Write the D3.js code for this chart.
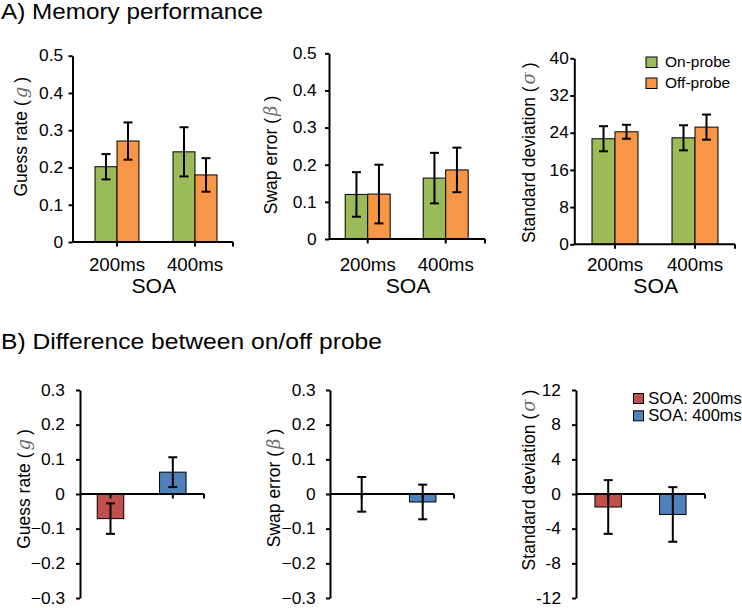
<!DOCTYPE html>
<html><head><meta charset="utf-8">
<script src="https://cdn.jsdelivr.net/npm/d3@7"></script>
<style>
body{margin:0;background:#fff}
svg{display:block}
text{font-family:"Liberation Sans",Arial,sans-serif;fill:#000}
</style>
</head><body>
<svg id="c" width="742" height="608"></svg>
<script>
// ---------- data ----------
const categories = ["200ms", "400ms"];
const seriesNames = ["On-probe", "Off-probe"];
const diffNames = ["SOA: 200ms", "SOA: 400ms"];

const guessOn = [0.202, 0.242], guessOnErr = [0.034, 0.066];
const guessOff = [0.271, 0.180], guessOffErr = [0.050, 0.045];
const swapOn = [0.120, 0.164], swapOnErr = [0.060, 0.068];
const swapOff = [0.121, 0.186], swapOffErr = [0.079, 0.060];
const sdOn = [22.7, 22.9], sdOnErr = [2.7, 2.7];
const sdOff = [24.2, 25.2], sdOffErr = [1.5, 2.7];

const diffGuess = [-0.071, 0.063], diffGuessErr = [0.044, 0.043];
const diffSwap = [-0.001, -0.023], diffSwapErr = [0.050, 0.050];
const diffSd = [-1.5, -2.36], diffSdErr = [3.1, 3.15];

const ticksProp = [0, 0.1, 0.2, 0.3, 0.4, 0.5];
const ticksSd = [0, 8, 16, 24, 32, 40];
const ticksDiff = [-0.3, -0.2, -0.1, 0, 0.1, 0.2, 0.3];
const ticksDiffSd = [-12, -8, -4, 0, 4, 8, 12];

const seriesColors = ["#9BBB59", "#F79646"];
const diffColors = ["#C0504D", "#4F81BD"];

// ---------- helpers ----------
const svg = d3.select("#c");
const SX = 1.05;

function htext(g, x, y, str, size, anchor, sx) {
  sx = sx || 1;
  return g.append("text")
    .attr("transform", `translate(${x},${y}) scale(${sx},1)`)
    .attr("text-anchor", anchor || "start")
    .style("font-size", size + "px")
    .text(str);
}

function ylabel(g, x, y, main, sym) {
  const t = g.append("text")
    .attr("transform", `translate(${x},${y}) rotate(-90)`)
    .attr("text-anchor", "middle")
    .style("font-size", "17.5px");
  t.append("tspan").text(main + " (");
  t.append("tspan").attr("dx", 2)
    .style("font-family", "'DejaVu Serif',serif").style("font-style", "italic")
    .style("fill", "#6b6b6b").style("font-size", "18px").text(sym);
  t.append("tspan").attr("dx", 4).text(")");
}

function yAxis(g, y, ax, ticks, fmt, labelOff, fs) {
  const a = g.append("g").attr("transform", `translate(${ax},0)`)
    .call(d3.axisLeft(y).tickValues(ticks).tickFormat(fmt).tickSize(4).tickSizeOuter(0));
  a.select(".domain").attr("stroke", "#000").attr("stroke-width", 2);
  a.selectAll(".tick line").attr("stroke", "#000").attr("stroke-width", 2);
  a.selectAll(".tick text")
    .attr("x", -labelOff / SX)
    .attr("transform", `scale(${SX},1)`)
    .style("font-size", fs + "px")
    .style("font-family", "'Liberation Sans',Arial,sans-serif")
    .attr("fill", "#000");
}

function errBar(g, x, yTop, yBot) {
  g.append("line").attr("x1", x).attr("x2", x).attr("y1", yTop).attr("y2", yBot)
    .attr("stroke", "#000").attr("stroke-width", 2);
  [yTop, yBot].forEach(yy => g.append("line").attr("x1", x - 4.5).attr("x2", x + 4.5)
    .attr("y1", yy).attr("y2", yy).attr("stroke", "#000").attr("stroke-width", 2));
}

function xAxisLine(g, ax, end, y0, centers) {
  g.append("line").attr("x1", ax).attr("x2", end).attr("y1", y0).attr("y2", y0)
    .attr("stroke", "#000").attr("stroke-width", 2);
  centers.concat([end]).forEach(cx => g.append("line").attr("x1", cx).attr("x2", cx)
    .attr("y1", y0).attr("y2", y0 + 4.5).attr("stroke", "#000").attr("stroke-width", 2));
}

// ---------- titles ----------
htext(svg, 1, 18.5, "A) Memory performance", 21.5, "start", 1.13);
htext(svg, 1, 349.3, "B) Difference between on/off probe", 21.8, "start", 1.13);

// ---------- top panels ----------
const topPanels = [
  {ax: 72.5, y0: 242, yTop: 55.7, c1: 117, c2: 195, end: 233, bw: 22, labelOff: 9.4,
   ylX: 27, ylY: 136.7, label: "Guess rate", sym: "g", ticks: ticksProp, fmt: d => d === 0 ? "0" : d3.format(".1f")(d),
   on: guessOn, onE: guessOnErr, off: guessOff, offE: guessOffErr},
  {ax: 329, y0: 239, yTop: 53.3, c1: 367.7, c2: 445.7, end: 485, bw: 22.5, labelOff: 12.3,
   ylX: 277, ylY: 155, label: "Swap error", sym: "β", ticks: ticksProp, fmt: d => d === 0 ? "0" : d3.format(".1f")(d),
   on: swapOn, onE: swapOnErr, off: swapOff, offE: swapOffErr},
  {ax: 574.3, y0: 244.3, yTop: 58.3, c1: 615, c2: 695, end: 735, bw: 23, labelOff: 5.5,
   ylX: 535, ylY: 152.7, label: "Standard deviation", sym: "σ", ticks: ticksSd, fmt: d => String(d),
   on: sdOn, onE: sdOnErr, off: sdOff, offE: sdOffErr}
];

topPanels.forEach(p => {
  const g = svg.append("g");
  const dom = [p.ticks[0], p.ticks[p.ticks.length - 1]];
  const y = d3.scaleLinear().domain(dom).range([p.y0, p.yTop]);
  const step = p.c2 - p.c1;
  const x0 = d3.scaleBand().domain(categories).range([p.c1 - step / 2, p.c2 + step / 2]);
  const x1 = d3.scaleBand().domain(seriesNames).range([-p.bw, p.bw]);
  const vals = [p.on, p.off], errs = [p.onE, p.offE];
  const cx = c => x0(c) + x0.bandwidth() / 2;

  seriesNames.forEach((s, si) => {
    g.selectAll(null).data(categories).enter().append("rect")
      .attr("x", c => cx(c) + x1(s))
      .attr("width", x1.bandwidth())
      .attr("y", (c, i) => y(vals[si][i]))
      .attr("height", (c, i) => y(0) - y(vals[si][i]))
      .attr("fill", seriesColors[si]).attr("stroke", "#000").attr("stroke-width", 1);
  });
  yAxis(g, y, p.ax, p.ticks, p.fmt, p.labelOff, 16.5);
  xAxisLine(g, p.ax, p.end, y(0), categories.map(cx));
  seriesNames.forEach((s, si) => {
    categories.forEach((c, i) => {
      const xm = cx(c) + x1(s) + x1.bandwidth() / 2;
      errBar(g, xm, y(vals[si][i] + errs[si][i]), y(vals[si][i] - errs[si][i]));
    });
  });
  categories.forEach(c => htext(g, cx(c), 270.7, c, 17.5, "middle", 1.07));
  htext(g, (p.ax + p.end) / 2 + 1, 293.3, "SOA", 20, "middle", 1.06);
  ylabel(g, p.ylX, p.ylY, p.label, p.sym);
});

// legend A
seriesNames.forEach((s, i) => {
  svg.append("rect").attr("x", 646).attr("y", 57 + i * 21).attr("width", 11).attr("height", 10.5)
    .attr("fill", seriesColors[i]).attr("stroke", "#000").attr("stroke-width", 1);
  htext(svg, 665, 67 + i * 20.7, s, 15.5, "start", 1);
});

// ---------- bottom panels ----------
const botPanels = [
  {ax: 80, c1: 110.5, c2: 172.8, end: 204, labelOff: 15, ylX: 30, ylY: 489,
   label: "Guess rate", sym: "g", ticks: ticksDiff, fmt: d => d === 0 ? "0" : d3.format(".1f")(d),
   vals: diffGuess, errs: diffGuessErr},
  {ax: 330, c1: 361.7, c2: 422.7, end: 454, labelOff: 14.3, ylX: 280, ylY: 488,
   label: "Swap error", sym: "β", ticks: ticksDiff, fmt: d => d === 0 ? "0" : d3.format(".1f")(d),
   vals: diffSwap, errs: diffSwapErr},
  {ax: 576, c1: 608.2, c2: 672.8, end: 705, labelOff: 15, ylX: 535, ylY: 480,
   label: "Standard deviation", sym: "σ", ticks: ticksDiffSd, fmt: d => String(d),
   vals: diffSd, errs: diffSdErr}
];

botPanels.forEach(p => {
  const g = svg.append("g");
  const dom = [p.ticks[0], p.ticks[p.ticks.length - 1]];
  const y = d3.scaleLinear().domain(dom).range([598, 390]);
  const step = p.c2 - p.c1;
  const x = d3.scaleBand().domain(categories).range([p.c1 - step / 2, p.c2 + step / 2]);
  const bw = 26.5;
  const cx = c => x(c) + x.bandwidth() / 2;
  g.selectAll(null).data(categories).enter().append("rect")
    .attr("x", c => cx(c) - bw / 2).attr("width", bw)
    .attr("y", (c, i) => Math.min(y(0), y(p.vals[i])))
    .attr("height", (c, i) => Math.abs(y(0) - y(p.vals[i])))
    .attr("fill", (c, i) => diffColors[i]).attr("stroke", "#000").attr("stroke-width", 1);
  yAxis(g, y, p.ax, p.ticks, p.fmt, p.labelOff, 16.5);
  xAxisLine(g, p.ax, p.end, y(0), categories.map(cx));
  categories.forEach((c, i) => errBar(g, cx(c), y(p.vals[i] + p.errs[i]), y(p.vals[i] - p.errs[i])));
  ylabel(g, p.ylX, p.ylY, p.label, p.sym);
});

// legend B
diffNames.forEach((s, i) => {
  svg.append("rect").attr("x", 633.5).attr("y", 393.5 + i * 17.3).attr("width", 10).attr("height", 10)
    .attr("fill", diffColors[i]).attr("stroke", "#000").attr("stroke-width", 1);
  htext(svg, 648.3, 403.5 + i * 17.3, s, 16.5, "start", 1);
});
</script>
</body></html>
